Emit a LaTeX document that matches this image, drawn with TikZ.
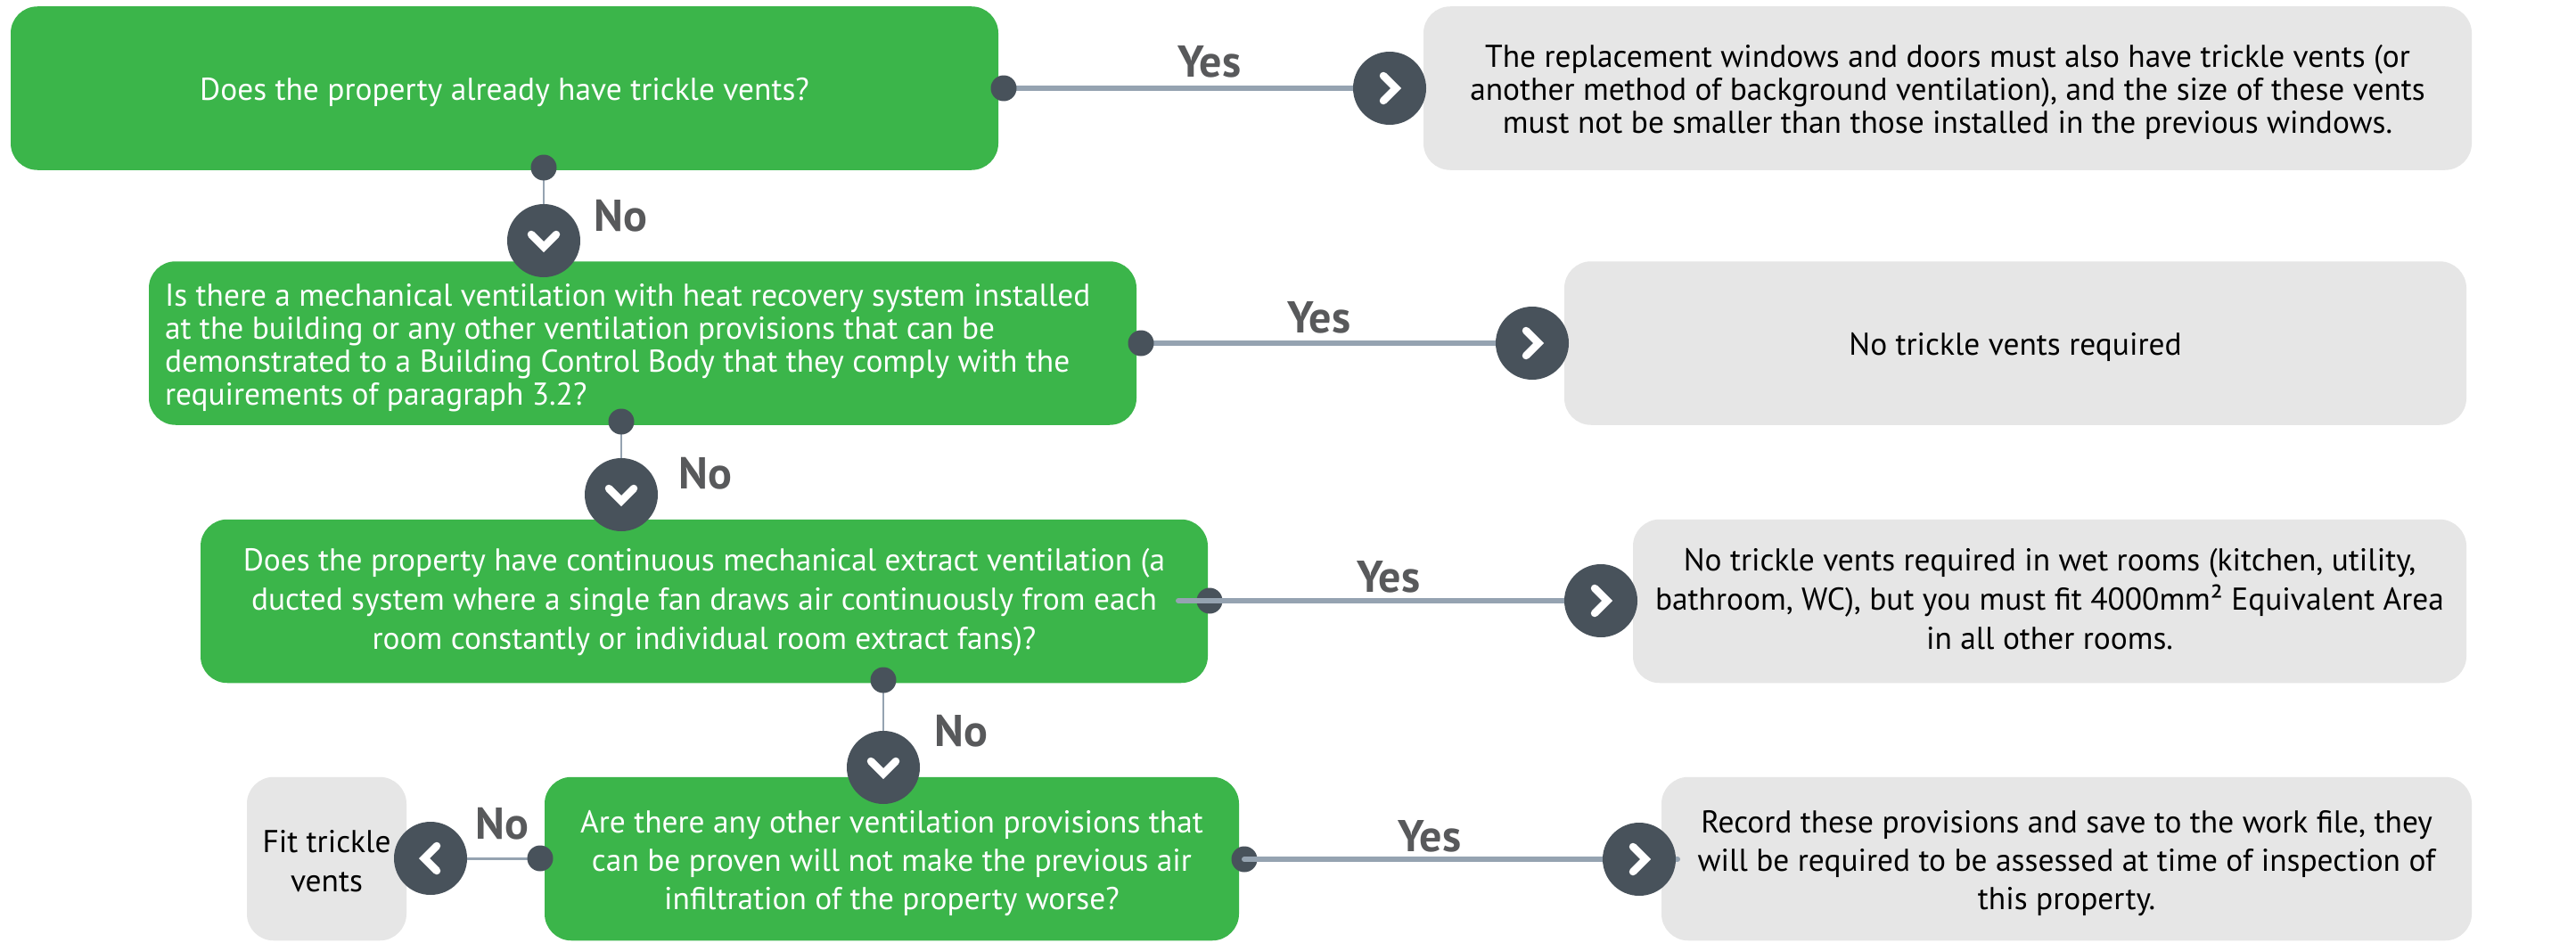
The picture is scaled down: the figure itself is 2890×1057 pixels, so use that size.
\documentclass[tikz,border=0pt]{standalone}
\usepackage{fontspec}
\setmainfont{PT Sans}
\usetikzlibrary{positioning}
\definecolor{gbox}{HTML}{3BB54A}
\definecolor{gybox}{HTML}{E6E6E6}
\definecolor{dark}{HTML}{48525B}
\definecolor{wire}{HTML}{95A3B1}
\definecolor{lab}{HTML}{58595B}
\pgfdeclarelayer{boxes}\pgfdeclarelayer{wires}\pgfdeclarelayer{dots}\pgfdeclarelayer{wiresb}
\pgfsetlayers{boxes,wires,dots,wiresb,main}
\newcommand{\chevr}[2]{\draw[chevron,shift={(#1.center)},rotate=#2] (-7,-14) -- (7,0) -- (-7,14);}
\tikzset{
 x=1pt,y=-1pt,
 bx/.style={rectangle,rounded corners=30pt,inner sep=0pt,align=flush center,minimum height=183.5pt,execute at begin node={\rule{0pt}{35pt}}},
 q/.style={bx,fill=gbox,text=white},
 a/.style={bx,fill=gybox,text=black},
 lift/.style={execute at end node={\rule[-#1]{0pt}{#1}}},
 bigc/.style={circle,fill=dark,minimum size=82pt,inner sep=0pt},
 smallc/.style={circle,fill=dark,minimum size=29pt,inner sep=0pt},
 thickw/.style={wire,line width=6pt,line cap=round},
 thinw/.style={wire,line width=2pt},
 chevron/.style={white,line width=8.5pt,line cap=round,miter limit=10},
 lbl/.style={text=lab,font=\fontsize{50}{50}\selectfont\bfseries,inner sep=0pt},
}
\begin{document}
\begin{tikzpicture}
\useasboundingbox (0,0) rectangle (2890,1057);
\begin{pgfonlayer}{boxes}
\fill[white] (0,0) rectangle (2890,1057);
\node[q,minimum width=1108pt,text width=1108pt,font=\fontsize{35.4}{37}\selectfont] (g1) at (566,99) {Does the property already have trickle vents?};
\node[q,minimum width=1108pt,text width=1072pt,align=flush left,font=\fontsize{35.4}{37}\selectfont] (g2) at (721,385) {Is there a mechanical ventilation with heat recovery system installed\\at the building or any other ventilation provisions that can be\\demonstrated to a Building Control Body that they comply with the\\requirements of paragraph 3.2?};
\node[q,lift=15pt,minimum width=1130pt,text width=1130pt,font=\fontsize{35.4}{44}\selectfont] (g3) at (790,674.5) {Does the property have continuous mechanical extract ventilation (a\\ducted system where a single fan draws air continuously from each\\room constantly or individual room extract fans)?};
\node[q,minimum width=779pt,text width=779pt,font=\fontsize{35.4}{43}\selectfont] (g4) at (1000.5,963.5) {Are there any other ventilation provisions that\\can be proven will not make the previous air\\infiltration of the property worse?};
\node[a,minimum width=1176pt,text width=1176pt,font=\fontsize{35.4}{37}\selectfont] (r1) at (2185,99) {The replacement windows and doors must also have trickle vents (or\\another method of background ventilation), and the size of these vents\\must not be smaller than those installed in the previous windows.};
\node[a,minimum width=1012pt,text width=1012pt,font=\fontsize{35.4}{37}\selectfont] (r2) at (2261,385) {No trickle vents required};
\node[a,lift=15pt,minimum width=935pt,text width=935pt,font=\fontsize{35.4}{44}\selectfont] (r3) at (2299.5,674.5) {No trickle vents required in wet rooms (kitchen, utility,\\bathroom, WC), but you must fit 4000mm² Equivalent Area\\in all other rooms.};
\node[a,minimum width=909pt,text width=909pt,font=\fontsize{35.4}{43}\selectfont] (r4) at (2318.5,963.5) {Record these provisions and save to the work file, they\\will be required to be assessed at time of inspection of\\this property.};
\node[a,lift=5pt,minimum width=179pt,text width=179pt,font=\fontsize{35.4}{44}\selectfont] (r5) at (366.5,963.5) {Fit trickle\\vents};
\end{pgfonlayer}
\begin{pgfonlayer}{dots}
\node[smallc] (s1) at (1126,99) {};
\node[smallc] (s2) at (1280,385) {};
\node[smallc] (s3) at (1357,674) {};
\node[smallc] (s4) at (1396,964) {};
\node[smallc] (n1) at (610,188) {};
\node[smallc] (n2) at (697,473) {};
\node[smallc] (n3) at (991,763) {};
\node[smallc] (n4) at (606,963) {};
\end{pgfonlayer}
\node[bigc] (c1) at (1559,99) {};
\node[bigc] (c2) at (1719,385) {};
\node[bigc] (c3) at (1796,674) {};
\node[bigc] (c4) at (1839,964) {};
\node[bigc] (d1) at (610,270) {};
\node[bigc] (d2) at (697,555) {};
\node[bigc] (d3) at (991,861) {};
\node[bigc] (l1) at (483,963) {};
\coordinate (st3) at (1322,674);
\coordinate (en4) at (1882,964);
\begin{pgfonlayer}{wires}
\draw[thickw] (s1.center) -- (c1.center);
\draw[thickw] (s2.center) -- (c2.center);
\draw[thinw] (n1.center) -- (d1.center);
\draw[thinw] (n2.center) -- (d2.center);
\draw[thinw] (n3.center) -- (d3.center);
\draw[wire,line width=3pt] (n4.center) -- (l1.center);
\end{pgfonlayer}
\begin{pgfonlayer}{wiresb}
\draw[thickw] (st3) -- (c3.center);
\draw[thickw] (s4.center) -- (en4);
\end{pgfonlayer}
\chevr{c1}{0}\chevr{c2}{0}\chevr{c3}{0}\chevr{c4}{0}
\chevr{d1}{270}\chevr{d2}{270}\chevr{d3}{270}\chevr{l1}{180}
\node[lbl] (y1) at (1357,69) {Yes};
\node[lbl] (y2) at (1480,356) {Yes};
\node[lbl] (y3) at (1558,647) {Yes};
\node[lbl] (y4) at (1604,938) {Yes};
\node[lbl] (o1) at (696,242) {No};
\node[lbl] (o2) at (791,531) {No};
\node[lbl] (o3) at (1078,820) {No};
\node[lbl] (o4) at (563,924) {No};
\end{tikzpicture}
\end{document}
